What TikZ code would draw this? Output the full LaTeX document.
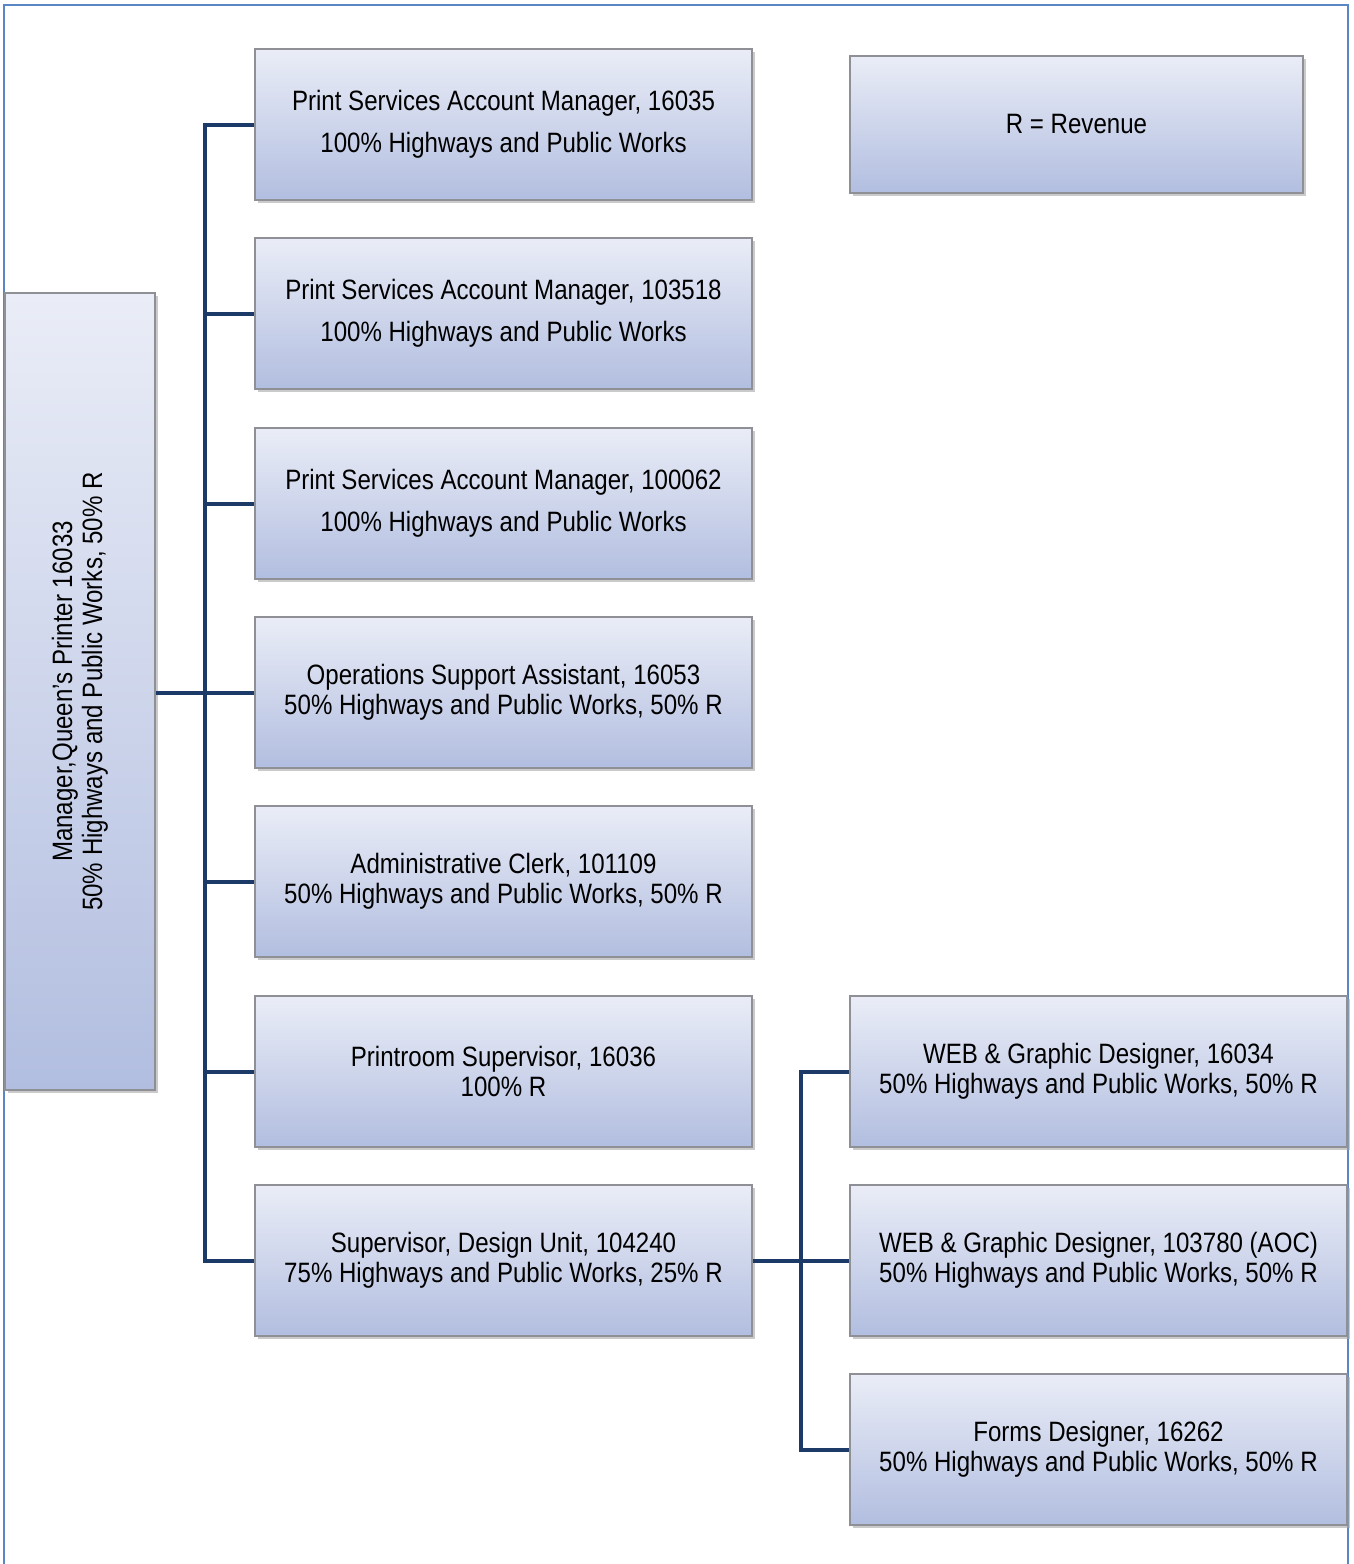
\documentclass[tikz,border=0pt]{standalone}
\usepackage{fontspec}
\setmainfont{Liberation Sans}[FakeStretch=0.86]
\usetikzlibrary{shadows}
\definecolor{frameblue}{HTML}{5B86C5}
\definecolor{linknavy}{HTML}{1B3A68}
\definecolor{boxtop}{HTML}{EAEDF7}
\definecolor{boxbot}{HTML}{B2BEE0}
\definecolor{boxedge}{HTML}{8E9096}
\tikzset{
  x=1pt, y=-1pt,
  posbox/.style={draw=boxedge, line width=1.5pt, top color=boxtop, bottom color=boxbot,
    minimum width=497pt, minimum height=151pt, align=center, inner sep=0pt,
    font=\fontsize{28}{30}\selectfont,
    drop shadow={shadow xshift=3pt, shadow yshift=-3pt, fill=black!35, opacity=0.6}},
  link/.style={draw=linknavy, line width=4pt}
}
\begin{document}
\begin{tikzpicture}
\useasboundingbox (0,0) rectangle (1354,1564);
\draw[frameblue, line width=2pt] (4,1564) -- (4,5) -- (1348,5) -- (1348,1564);

\node[posbox, minimum width=150pt, minimum height=797pt] (mgr) at (80,691.5) {};
\node[rotate=90, align=center, font=\fontsize{28}{30}\selectfont] (mgrtext) at (80,691.5)
  {Manager,Queen's Printer 16033\\50\% Highways and Public Works, 50\% R};

\node[posbox] (b1) at (503.5,124.5) {Print Services Account Manager, 16035\\[12pt]100\% Highways and Public Works};
\node[posbox] (b2) at (503.5,313.5) {Print Services Account Manager, 103518\\[12pt]100\% Highways and Public Works};
\node[posbox] (b3) at (503.5,503.5) {Print Services Account Manager, 100062\\[12pt]100\% Highways and Public Works};
\node[posbox] (b4) at (503.5,692.5) {Operations Support Assistant, 16053\\50\% Highways and Public Works, 50\% R};
\node[posbox] (b5) at (503.5,881.5) {Administrative Clerk, 101109\\50\% Highways and Public Works, 50\% R};
\node[posbox] (b6) at (503.5,1071.5) {Printroom Supervisor, 16036\\100\% R};
\node[posbox] (b7) at (503.5,1260.5) {Supervisor, Design Unit, 104240\\75\% Highways and Public Works, 25\% R};

\node[posbox, minimum width=453pt, minimum height=137pt] (rev) at (1076.5,124.5) {R = Revenue};

\node[posbox] (c1) at (1098.5,1071.5) {WEB \& Graphic Designer, 16034\\50\% Highways and Public Works, 50\% R};
\node[posbox] (c2) at (1098.5,1260.5) {WEB \& Graphic Designer, 103780 (AOC)\\50\% Highways and Public Works, 50\% R};
\node[posbox] (c3) at (1098.5,1449.5) {Forms Designer, 16262\\50\% Highways and Public Works, 50\% R};

\coordinate (trunkA) at (205,0);
\coordinate (trunkB) at (801,0);

\draw[link] (mgr.east |- b4.west) -- (b4.west);
\draw[link] (b1.west) -- (b1.west -| trunkA) -- (b7.west -| trunkA) -- (b7.west);
\foreach \b in {b2,b3,b5,b6} \draw[link] (\b.west -| trunkA) -- (\b.west);

\draw[link] (b7.east) -- (c2.west);
\draw[link] (c1.west) -- (c1.west -| trunkB) -- (c3.west -| trunkB) -- (c3.west);
\end{tikzpicture}
\end{document}
